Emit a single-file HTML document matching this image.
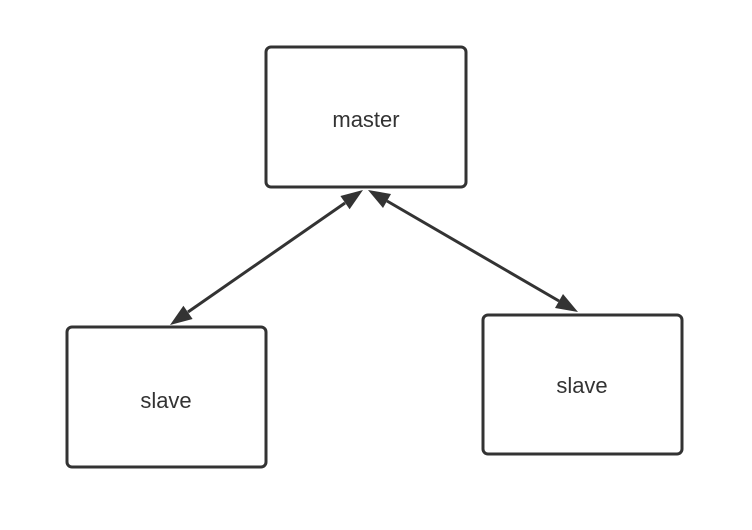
<!DOCTYPE html>
<html><head><style>
html,body{margin:0;padding:0;background:#fff;width:752px;height:530px;overflow:hidden}
</style></head><body>
<svg width="752" height="530" xmlns="http://www.w3.org/2000/svg">
<g fill="#fff" stroke="#333" stroke-width="3">
<rect x="266" y="47" width="200" height="140" rx="5"/>
<rect x="67" y="327" width="199" height="140" rx="5"/>
<rect x="483" y="315" width="199" height="139" rx="5"/>
</g>
<g stroke="#333" stroke-width="3">
<line x1="188" y1="312" x2="345" y2="203"/>
<line x1="387" y1="201" x2="559" y2="301"/>
</g>
<g fill="#333">
<polygon points="363,190 349.6,209.2 340.4,196"/>
<polygon points="170,325 192.6,319 183.4,305.8"/>
<polygon points="368,190 383,208 391,194"/>
<polygon points="578,312 555,308 563,294"/>
</g>
<g font-family="Liberation Sans, sans-serif" font-size="22" fill="#333" text-anchor="middle">
<text x="366" y="127">master</text>
<text x="166" y="408">slave</text>
<text x="582" y="393">slave</text>
</g>
</svg>
</body></html>
